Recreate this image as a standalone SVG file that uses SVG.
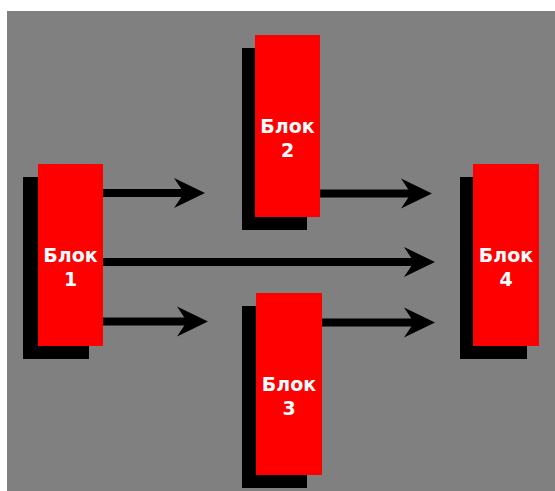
<svg xmlns="http://www.w3.org/2000/svg" width="555" height="491" viewBox="0 0 555 491">
  <style>
    .shadow { fill: #000000; }
    .block { fill: #FF0000; }
    .label { fill: #FFFFFF; font-family: "DejaVu Sans", "Liberation Sans", sans-serif; font-weight: bold; font-size: 19px; text-anchor: middle; }
    .link { stroke: #000000; stroke-width: 8; fill: none; marker-end: url(#head); }
  </style>
  <defs>
    <!-- barbed arrowhead; its tip sits 18px past the end of the line -->
    <marker id="head" markerUnits="userSpaceOnUse" viewBox="-16 -16 36 32" markerWidth="36" markerHeight="32" refX="0" refY="0" orient="auto">
      <path d="M18,0 L-13,-15 L-3,0 L-13,15 Z" fill="#000000"/>
    </marker>
  </defs>

  <rect x="0" y="0" width="555" height="491" fill="#FFFFFF"/>
  <rect x="7" y="11" width="548" height="480" fill="#808080"/>

  <g id="connectors">
    <line class="link" x1="103" y1="193" x2="187" y2="193"/>
    <line class="link" x1="103" y1="321.5" x2="190" y2="321.5"/>
    <line class="link" x1="103" y1="262" x2="417" y2="262"/>
    <line class="link" x1="320" y1="193.5" x2="414" y2="193.5"/>
    <line class="link" x1="322" y1="322.5" x2="417" y2="322.5"/>
  </g>

  <g id="block1">
    <rect class="shadow" x="23" y="177" width="66" height="182"/>
    <rect class="block" x="38" y="164" width="65" height="182"/>
    <text class="label" x="70.5" y="262">Блок</text>
    <text class="label" x="70.5" y="286">1</text>
  </g>

  <g id="block2">
    <rect class="shadow" x="242" y="48" width="65" height="182"/>
    <rect class="block" x="255" y="35" width="65" height="182"/>
    <text class="label" x="287.5" y="133">Блок</text>
    <text class="label" x="287.5" y="157">2</text>
  </g>

  <g id="block3">
    <rect class="shadow" x="242" y="306" width="65" height="182"/>
    <rect class="block" x="256" y="293" width="66" height="182"/>
    <text class="label" x="289" y="391">Блок</text>
    <text class="label" x="289" y="415">3</text>
  </g>

  <g id="block4">
    <rect class="shadow" x="460" y="177" width="67" height="182"/>
    <rect class="block" x="473" y="164" width="66" height="182"/>
    <text class="label" x="506" y="262">Блок</text>
    <text class="label" x="506" y="286">4</text>
  </g>
</svg>
